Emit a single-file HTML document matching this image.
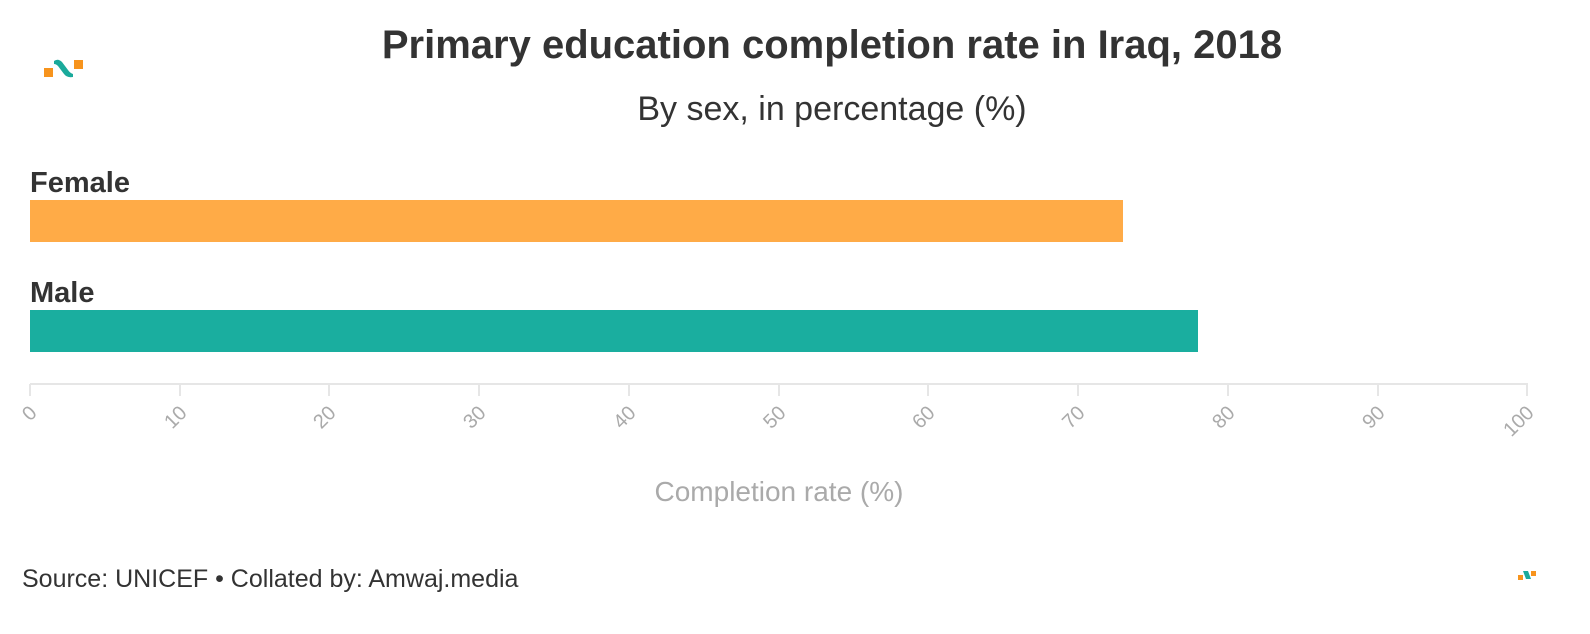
<!DOCTYPE html>
<html><head><style>
body{margin:0;width:1590px;height:634px;background:#fff;font-family:"Liberation Sans",sans-serif;overflow:hidden;position:relative}
.t{position:absolute;white-space:nowrap}
</style></head><body>
<svg width="1590" height="634" style="position:absolute;left:0;top:0">
<rect x="44" y="68" width="9" height="9" fill="#f7941d"/>
<path d="M54 61 Q58 58 62 62 L68 70 Q70 73 73 74 L73 77 Q67 78 64 74 L58 66 Q56 64 54 64Z" fill="#1aaa9b"/>
<rect x="74" y="60" width="9" height="9" fill="#f7941d"/>
<rect x="30" y="200" width="1093" height="42" fill="#ffab47"/>
<rect x="30" y="310" width="1168" height="42" fill="#1aae9f"/>
<line x1="30" y1="384" x2="1528" y2="384" stroke="#e6e6e6" stroke-width="2"/>
<g stroke="#e6e6e6" stroke-width="2">
<line x1="30" y1="384" x2="30" y2="396"/><line x1="180" y1="384" x2="180" y2="396"/><line x1="329" y1="384" x2="329" y2="396"/><line x1="479" y1="384" x2="479" y2="396"/><line x1="629" y1="384" x2="629" y2="396"/><line x1="779" y1="384" x2="779" y2="396"/><line x1="928" y1="384" x2="928" y2="396"/><line x1="1078" y1="384" x2="1078" y2="396"/><line x1="1228" y1="384" x2="1228" y2="396"/><line x1="1378" y1="384" x2="1378" y2="396"/><line x1="1527" y1="384" x2="1527" y2="396"/>
</g>
<g font-family="Liberation Sans,sans-serif" font-size="20" fill="#aaa" text-anchor="end">
<text transform="translate(38,414) rotate(-45)">0</text>
<text transform="translate(188,414) rotate(-45)">10</text>
<text transform="translate(337,414) rotate(-45)">20</text>
<text transform="translate(487,414) rotate(-45)">30</text>
<text transform="translate(637,414) rotate(-45)">40</text>
<text transform="translate(787,414) rotate(-45)">50</text>
<text transform="translate(936,414) rotate(-45)">60</text>
<text transform="translate(1086,414) rotate(-45)">70</text>
<text transform="translate(1236,414) rotate(-45)">80</text>
<text transform="translate(1386,414) rotate(-45)">90</text>
<text transform="translate(1535,414) rotate(-45)">100</text>
</g>
<rect x="1518" y="575" width="5" height="5" fill="#f7941d"/>
<path d="M1523 571 L1528 571 L1531 579 L1526 579Z" fill="#1aaa9b"/>
<rect x="1531" y="571" width="5" height="5" fill="#f7941d"/>
</svg>
<div class="t" style="left:0;width:1664px;text-align:center;top:23px;font-size:40px;font-weight:bold;color:#333">Primary education completion rate in Iraq, 2018</div>
<div class="t" style="left:0;width:1664px;text-align:center;top:90px;font-size:34px;color:#333">By sex, in percentage (%)</div>
<div class="t" style="left:30px;top:167px;font-size:29px;font-weight:bold;color:#333">Female</div>
<div class="t" style="left:30px;top:277px;font-size:29px;font-weight:bold;color:#333">Male</div>
<div class="t" style="left:0;width:1558px;text-align:center;top:476px;font-size:28px;color:#aaa">Completion rate (%)</div>
<div class="t" style="left:22px;top:565px;font-size:25px;color:#333">Source: UNICEF • Collated by: Amwaj.media</div>
</body></html>
